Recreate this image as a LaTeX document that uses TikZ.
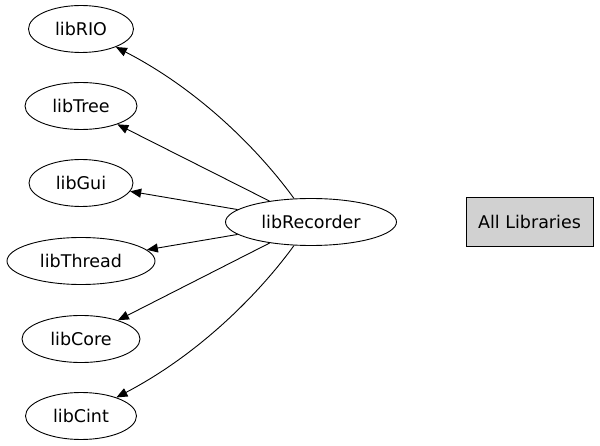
\documentclass[tikz,border=0pt]{standalone}
\usepackage{fontspec}
\setmainfont{DejaVu Sans}
\usetikzlibrary{arrows.meta,shapes.geometric}

\begin{document}
\begin{tikzpicture}[x=1pt,y=1pt]
\tikzset{lib/.style={draw,line width=0.9pt,ellipse,inner sep=0pt,minimum height=47pt,font=\fontsize{17.5}{20}\selectfont},
dep/.style={-{Triangle[length=11pt,width=9pt]},line width=0.9pt},
legend/.style={draw,line width=0.9pt,fill=black!18,inner sep=0pt,minimum width=127pt,minimum height=49pt,font=\fontsize{17.5}{20}\selectfont}}
\useasboundingbox (0,0) rectangle (600,445);
\node[lib,minimum width=105pt] (rio) at (81,416) {libRIO};
\node[lib,minimum width=112pt] (tree) at (81,339) {libTree};
\node[lib,minimum width=104pt] (gui) at (81,262) {libGui};
\node[lib,minimum width=148pt] (thread) at (81,184) {libThread};
\node[lib,minimum width=118pt] (core) at (81,106) {libCore};
\node[lib,minimum width=111pt] (cint) at (81,29) {libCint};
\node[lib,minimum width=171pt] (rec) at (311,223) {libRecorder};
\node[legend] (all) at (529.5,223) {All Libraries};
\draw[dep] (rec) .. controls (264,288) and (205,352) .. (rio);
\draw[dep] (rec) -- (tree);
\draw[dep] (rec) -- (gui);
\draw[dep] (rec) -- (thread);
\draw[dep] (rec) -- (core);
\draw[dep] (rec) .. controls (264,158) and (205,94) .. (cint);
\end{tikzpicture}
\end{document}
